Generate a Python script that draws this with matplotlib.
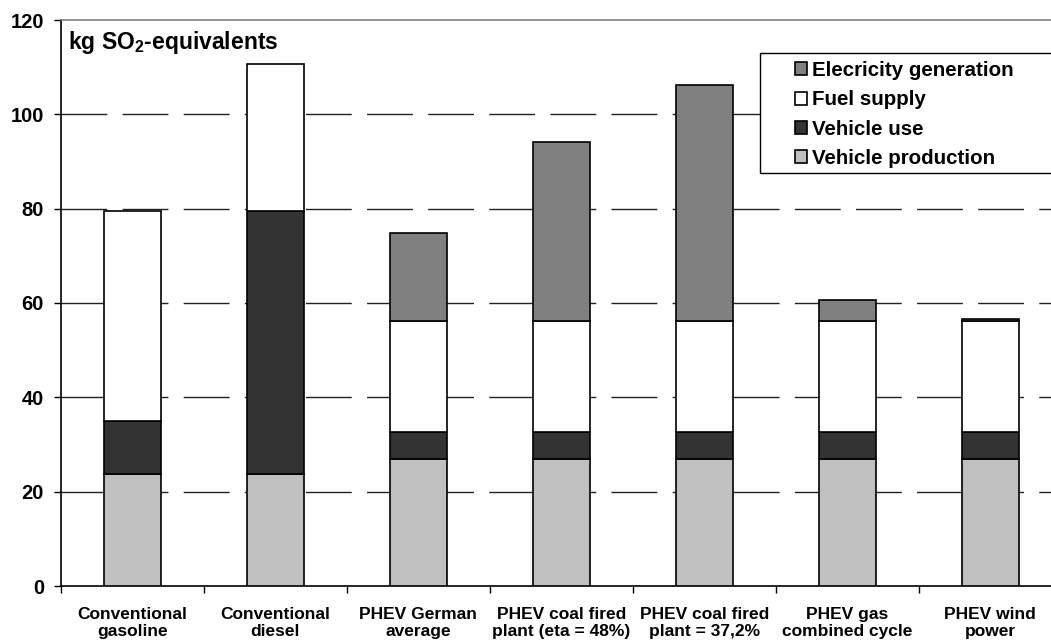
import numpy as np
import matplotlib
matplotlib.use("Agg")
import matplotlib.pyplot as plt
from matplotlib.patches import Rectangle

plt.rcParams['font.family'] = ['Liberation Sans', 'DejaVu Sans']
plt.rcParams['font.weight'] = 'bold'
plt.rcParams['mathtext.fontset'] = 'custom'
plt.rcParams['mathtext.rm'] = 'Liberation Sans:bold'
plt.rcParams['mathtext.bf'] = 'Liberation Sans:bold'

# data (kg SO2-equivalents)
categories = ["Conventional\ngasoline", "Conventional\ndiesel",
              "PHEV German\naverage", "PHEV coal fired\nplant (eta = 48%)",
              "PHEV coal fired\nplant = 37,2%", "PHEV gas\ncombined cycle",
              "PHEV wind\npower"]
vehicle_production = [23.7, 23.7, 26.9, 26.9, 26.9, 26.9, 26.9]
vehicle_use = [11.3, 55.8, 5.8, 5.8, 5.8, 5.8, 5.8]
fuel_supply = [44.5, 31.2, 23.5, 23.5, 23.5, 23.5, 23.5]
electricity = [0.0, 0.0, 18.6, 37.9, 50.0, 4.5, 0.5]
y_ticks = [0, 20, 40, 60, 80, 100, 120]

W, H = 1051, 644
fig = plt.figure(figsize=(W / 100, H / 100), dpi=100)
ax = fig.add_axes([60.7 / W, 58 / H, 1001 / W, 566 / H])

x = np.arange(len(categories))
bw = 0.4
ec = dict(edgecolor='black', linewidth=1.2, zorder=3)
b1 = ax.bar(x, vehicle_production, bw, color='#c0c0c0', **ec)
bottom = np.array(vehicle_production)
b2 = ax.bar(x, vehicle_use, bw, bottom=bottom, color='#333333', **ec)
bottom = bottom + np.array(vehicle_use)
b3 = ax.bar(x, fuel_supply, bw, bottom=bottom, color='white', **ec)
bottom = bottom + np.array(fuel_supply)
elec = np.array(electricity)
mask = elec > 0
b4 = ax.bar(x[mask], elec[mask], bw, bottom=bottom[mask], color='#808080', **ec)

ax.set_xlim(-0.5, len(categories) - 0.5)
ax.set_ylim(0, 120)
ax.set_yticks(y_ticks)
ax.set_yticklabels([str(t) for t in y_ticks], fontsize=14.5, fontweight='bold')
ax.tick_params(axis='y', direction='out', length=5, width=1, pad=7)

ax.set_xticks(x)
ax.set_xticklabels(categories, fontsize=12.5, fontweight='bold', linespacing=1.2)
ax.tick_params(axis='x', which='major', length=0, pad=15)
ax.set_xticks(np.arange(len(categories) + 1) - 0.5, minor=True)
ax.tick_params(axis='x', which='minor', direction='out', length=5, width=1)

for v in y_ticks[1:-1]:
    ax.axhline(v, color='#222222', linewidth=1, dashes=(33, 11), zorder=1)

ax.spines['right'].set_visible(False)
ax.spines['top'].set_color('#808080')
ax.spines['top'].set_linewidth(1.2)
ax.spines['left'].set_linewidth(1.2)
ax.spines['bottom'].set_linewidth(1.2)

ax.text(68, 644 - 43, r'kg SO$_\mathbf{2}$-equivalents', transform=None,
        fontsize=16.5, fontweight='bold', va='center', ha='left')

# legend box
fig.patches.append(Rectangle((760 / W, 1 - 173 / H), 320 / W, 120 / H,
                             transform=fig.transFigure, facecolor='white',
                             edgecolor='black', linewidth=1, zorder=5))
leg = fig.legend([b4, b3, b2, b1],
                 ["Elecricity generation", "Fuel supply", "Vehicle use",
                  "Vehicle production"],
                 loc='upper left', bbox_to_anchor=(795 / W, 1 - 61 / H),
                 frameon=False, prop={'weight': 'bold', 'size': 14.8},
                 handlelength=0.6, handleheight=0.6, handletextpad=0.25,
                 labelspacing=0.5, borderpad=0, borderaxespad=0)
leg.set_zorder(6)

fig.savefig("out.png", dpi=100)
